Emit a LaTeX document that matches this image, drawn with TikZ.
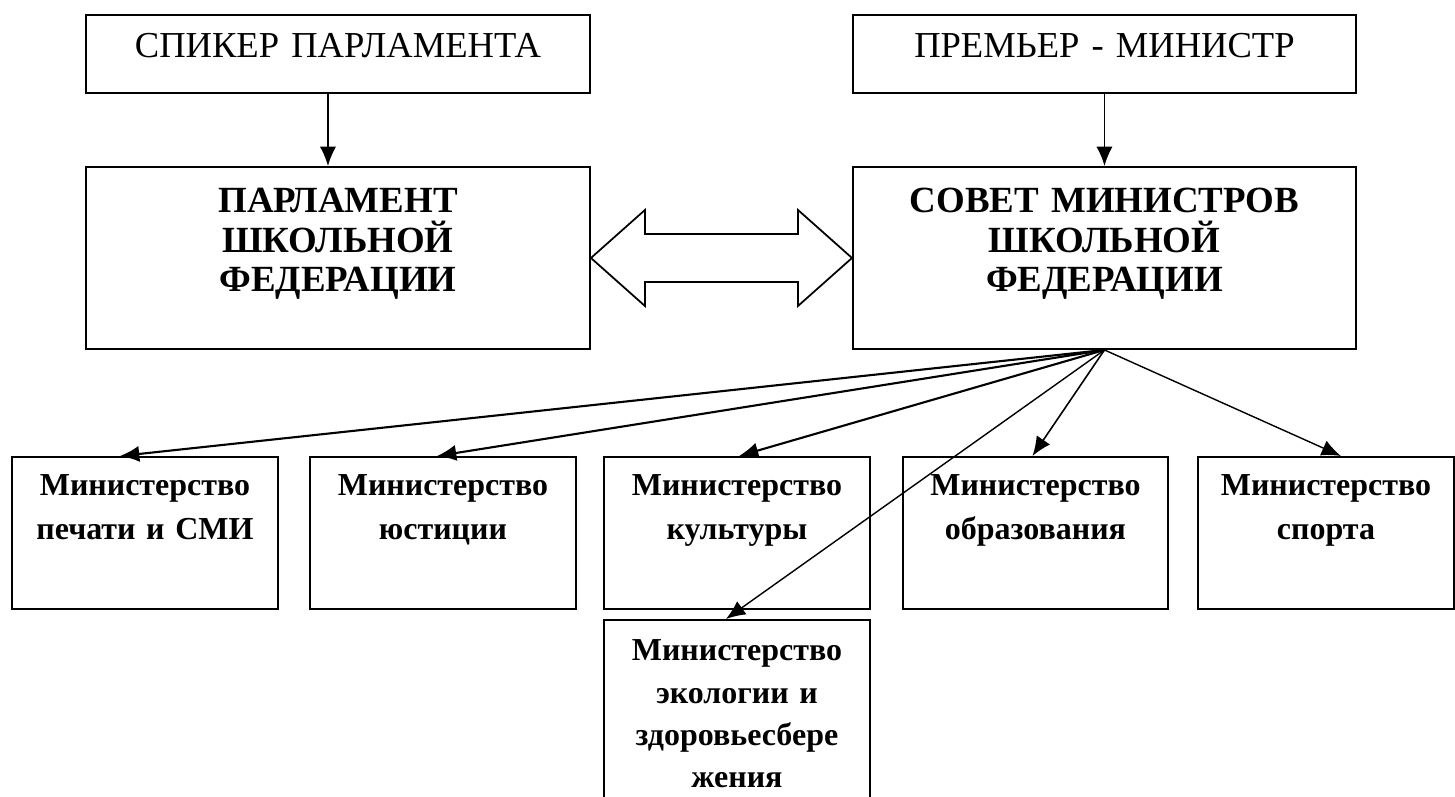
\documentclass[tikz,border=0pt]{standalone}
\usepackage{fontspec}
\setmainfont{Liberation Serif}
\usetikzlibrary{arrows.meta,calc}

\tikzset{
	box/.style={draw, line width=0.55pt, anchor=north west, inner sep=0pt, align=center},
	headbox/.style={box, font=\fontsize{10.4}{12}\selectfont, text height=0.425cm, text depth=0.355cm},
	mainbox/.style={box, font=\bfseries\fontsize{10.5}{11.2}\selectfont, text height=0.46cm, text depth=1.36cm},
	minbox/.style={box, font=\bfseries\fontsize{9.1}{12.5}\selectfont, text width=2.66cm, text height=0.39cm, text depth=1.13cm},
}

\begin{document}
\begin{tikzpicture}[>={Latex[length=5.5pt,width=4.6pt]}]
		\clip (0,0) rectangle (14.55,-7.96);
		%Руководство
		\node [headbox, text width=5.04cm] (spk) at (0.85,-0.14) {СПИКЕР ПАРЛАМЕНТА};
		\node [headbox, text width=5.03cm] (prem) at (8.52,-0.14) {ПРЕМЬЕР - МИНИСТР};
		\node [mainbox, text width=5.04cm] (parl) at (0.85,-1.66) {ПАРЛАМЕНТ\\ШКОЛЬНОЙ\\ФЕДЕРАЦИИ};
		\node [mainbox, text width=5.03cm] (sov) at (8.52,-1.66) {СОВЕТ МИНИСТРОВ\\ШКОЛЬНОЙ\\ФЕДЕРАЦИИ};
		\draw [->, line width=0.45pt] ([xshift=-0.1cm]spk.south) -- ([xshift=-0.1cm]parl.north);
		\draw [->, line width=0.45pt] (prem.south) -- (sov.north);
		%Двойная стрелка
		\draw [line width=0.5pt] (parl.east) -- ++(0.54,0.48) -- ++(0,-0.24)
			-- ([xshift=-0.54cm,yshift=0.24cm]sov.west) -- ++(0,0.24) -- (sov.west)
			-- ++(-0.54,-0.48) -- ++(0,0.24)
			-- ([xshift=0.54cm,yshift=-0.24cm]parl.east) -- ++(0,-0.24) -- cycle;
		%Министерства
		\node [minbox] (pech) at (0.11,-4.56) {Министерство\\печати и СМИ};
		\node [minbox] (yust) at (3.09,-4.56) {Министерство\\юстиции};
		\node [minbox] (kult) at (6.03,-4.56) {Министерство\\культуры};
		\node [minbox, text width=2.65cm] (obr) at (9.02,-4.56) {Министерство\\образования};
		\node [minbox, text width=2.56cm] (sport) at (11.97,-4.56) {Министерство\\спорта};
		\node [minbox, text height=0.41cm, text depth=1.7cm, font=\bfseries\fontsize{9.1}{12}\selectfont] (eko) at (6.03,-6.19) {Министерство\\экологии и\\здоровьесбере\\жения};
		%Стрелки
		\coordinate (fan) at (sov.south);
		\draw [->, line width=0.6pt] (fan) -- ([xshift=-0.25cm]pech.north);
		\draw [->, line width=0.6pt] (fan) -- ([xshift=-0.06cm]yust.north);
		\draw [->, line width=0.6pt] (fan) -- ([xshift=0.02cm]kult.north);
		\draw [->, line width=0.4pt] (fan) -- ([xshift=-0.11cm]eko.north);
		\draw [->, line width=0.45pt] (fan) -- ([xshift=-0.03cm]obr.north);
		\draw [->, line width=0.4pt] (fan) -- ([xshift=0.15cm]sport.north);
	\end{tikzpicture}
\end{document}
